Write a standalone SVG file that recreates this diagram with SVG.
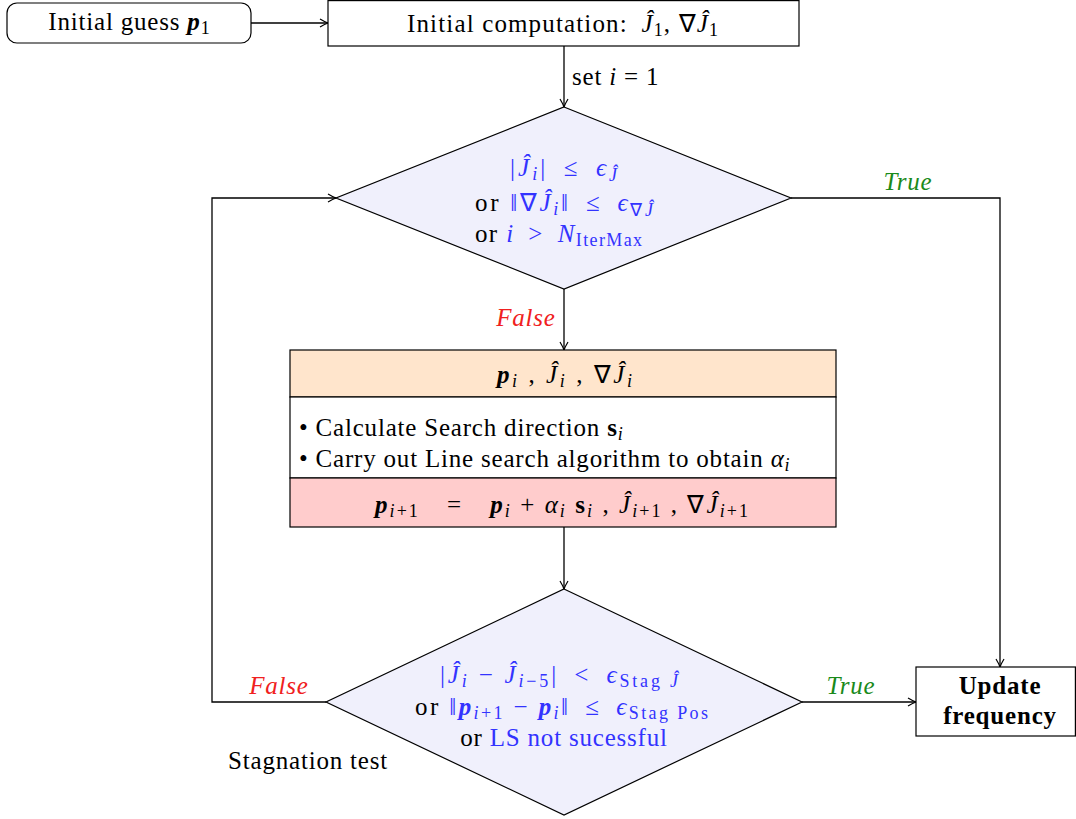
<svg xmlns="http://www.w3.org/2000/svg" width="1076" height="819" viewBox="0 0 1076 819" font-family="'Liberation Serif', 'Times New Roman', serif" font-size="25">
<style>
text{fill:#000;letter-spacing:0.8px}
text.m{letter-spacing:0}
.b{fill:#3333ff}
.i{font-style:italic}
.bi{font-style:italic;font-weight:bold}
.bf{font-weight:bold}
.s{font-size:18px;letter-spacing:0}
.ln{stroke:#000;stroke-width:1.3;fill:none}
.box{stroke:#000;stroke-width:1.2}
.red{fill:#f02020;font-style:italic}
.grn{fill:#1a8a1a;font-style:italic}
</style>
<defs>
<marker id="ar" viewBox="0 0 10 10" refX="9" refY="5" markerWidth="10" markerHeight="10" markerUnits="userSpaceOnUse" orient="auto">
<path d="M1,1 Q6,4 9,5 Q6,6 1,9" fill="none" stroke="#000" stroke-width="1.2"/>
</marker>
</defs>
<rect width="1076" height="819" fill="#fff"/>

<g id="connectors">
<line class="ln" x1="251" y1="23" x2="328" y2="23" marker-end="url(#ar)"/>
<line class="ln" x1="564" y1="46" x2="564" y2="107" marker-end="url(#ar)"/>
<polyline class="ln" points="791,198 1000,198 1000,667" marker-end="url(#ar)"/>
<line class="ln" x1="564" y1="289" x2="564" y2="350" marker-end="url(#ar)"/>
<line class="ln" x1="564" y1="527" x2="564" y2="589" marker-end="url(#ar)"/>
<line class="ln" x1="802" y1="702" x2="916" y2="702" marker-end="url(#ar)"/>
<polyline class="ln" points="326,702 212,702 212,198 336,198" marker-end="url(#ar)"/>
<text x="572" y="85">set <tspan class="i">i</tspan> = 1</text>
<text class="grn" x="908" y="190" text-anchor="middle">True</text>
<text class="red" x="526" y="326" text-anchor="middle">False</text>
<text class="grn" x="851" y="694" text-anchor="middle">True</text>
<text class="red" x="279" y="694" text-anchor="middle">False</text>
</g>

<g id="initial-guess">
<rect class="box" x="7" y="3" width="244" height="40" rx="10" fill="#fff"/>
<text x="129" y="30" text-anchor="middle">Initial guess <tspan class="bi">p</tspan><tspan class="s" dy="4">1</tspan></text>
</g>

<g id="initial-computation">
<rect class="box" x="328" y="0.6" width="471" height="45.4" fill="#fff"/>
<text class="m" x="407" y="32" textLength="311" lengthAdjust="spacing">Initial computation:&#8194;<tspan class="i">Ĵ</tspan><tspan class="s" dy="4">1</tspan><tspan dy="-4">, ∇</tspan><tspan class="i">Ĵ</tspan><tspan class="s" dy="4">1</tspan></text>
</g>

<g id="convergence-test">
<polygon class="box" points="564,107 791,198 564,289 336,198" fill="#f0f0fc"/>
<text class="m b" x="510" y="176" textLength="107" lengthAdjust="spacing">|<tspan class="i">Ĵ</tspan><tspan class="s i" dy="4">i</tspan><tspan dy="-4">|&#8194;≤&#8194;</tspan><tspan class="i">ϵ</tspan><tspan class="s i" dy="5">Ĵ</tspan></text>
<text class="m" x="475" y="211" textLength="178" lengthAdjust="spacing">or <tspan class="b">‖∇</tspan><tspan class="b i">Ĵ</tspan><tspan class="b s i" dy="4">i</tspan><tspan class="b" dy="-4">‖&#8194;≤&#8194;</tspan><tspan class="b i">ϵ</tspan><tspan class="b s" dy="5">∇</tspan><tspan class="b s i">Ĵ</tspan></text>
<text class="m" x="475" y="242" textLength="167" lengthAdjust="spacing">or <tspan class="b i">i</tspan><tspan class="b">&#8194;&gt;&#8194;</tspan><tspan class="b i">N</tspan><tspan class="b s" dy="4">IterMax</tspan></text>
</g>

<g id="update-step">
<rect class="box" x="290" y="350" width="546" height="47" fill="#ffe5cc"/>
<rect class="box" x="290" y="397" width="546" height="81" fill="#fff"/>
<rect class="box" x="290" y="478" width="546" height="49" fill="#ffcccc"/>
<text class="m" x="497" y="383" textLength="135" lengthAdjust="spacing"><tspan class="bi">p</tspan><tspan class="s i" dy="4">i</tspan><tspan dy="-4"> , </tspan><tspan class="i">Ĵ</tspan><tspan class="s i" dy="4">i</tspan><tspan dy="-4"> , ∇</tspan><tspan class="i">Ĵ</tspan><tspan class="s i" dy="4">i</tspan></text>
<text x="299" y="436">• Calculate Search direction <tspan class="bf">s</tspan><tspan class="s i" dy="4">i</tspan></text>
<text x="299" y="467">• Carry out Line search algorithm to obtain <tspan class="i">α</tspan><tspan class="s i" dy="4">i</tspan></text>
<text class="m" x="375" y="513" textLength="373" lengthAdjust="spacing"><tspan class="bi">p</tspan><tspan class="s" dy="4"><tspan class="i">i</tspan>+1</tspan><tspan dy="-4">&#8195;=&#8195;</tspan><tspan class="bi">p</tspan><tspan class="s i" dy="4">i</tspan><tspan dy="-4"> + </tspan><tspan class="i">α</tspan><tspan class="s i" dy="4">i</tspan><tspan dy="-4"> </tspan><tspan class="bf">s</tspan><tspan class="s i" dy="4">i</tspan><tspan dy="-4"> , </tspan><tspan class="i">Ĵ</tspan><tspan class="s" dy="4"><tspan class="i">i</tspan>+1</tspan><tspan dy="-4"> , ∇</tspan><tspan class="i">Ĵ</tspan><tspan class="s" dy="4"><tspan class="i">i</tspan>+1</tspan></text>
</g>

<g id="stagnation-test">
<polygon class="box" points="564,589 802,702 564,815 326,702" fill="#f0f0fc"/>
<text class="m b" x="440" y="683" textLength="238" lengthAdjust="spacing">|<tspan class="i">Ĵ</tspan><tspan class="s i" dy="4">i</tspan><tspan dy="-4"> − </tspan><tspan class="i">Ĵ</tspan><tspan class="s" dy="4"><tspan class="i">i</tspan>−5</tspan><tspan dy="-4">|&#8194;&lt;&#8194;</tspan><tspan class="i">ϵ</tspan><tspan class="s" dy="4">Stag <tspan class="i">Ĵ</tspan></tspan></text>
<text class="m" x="415" y="715" textLength="293" lengthAdjust="spacing">or <tspan class="b">‖</tspan><tspan class="b bi">p</tspan><tspan class="b s" dy="4"><tspan class="i">i</tspan>+1</tspan><tspan class="b" dy="-4"> − </tspan><tspan class="b bi">p</tspan><tspan class="b s i" dy="4">i</tspan><tspan class="b" dy="-4">‖&#8194;≤&#8194;</tspan><tspan class="b i">ϵ</tspan><tspan class="b s" dy="4">Stag Pos</tspan></text>
<text x="564" y="746" text-anchor="middle">or <tspan class="b">LS not sucessful</tspan></text>
<text x="308" y="769" text-anchor="middle">Stagnation test</text>
</g>

<g id="update-frequency">
<rect class="box" x="916" y="667" width="159.4" height="69" fill="#fff"/>
<text x="1000" y="694" text-anchor="middle" class="bf">Update</text>
<text x="1000" y="724" text-anchor="middle" class="bf">frequency</text>
</g>
</svg>
